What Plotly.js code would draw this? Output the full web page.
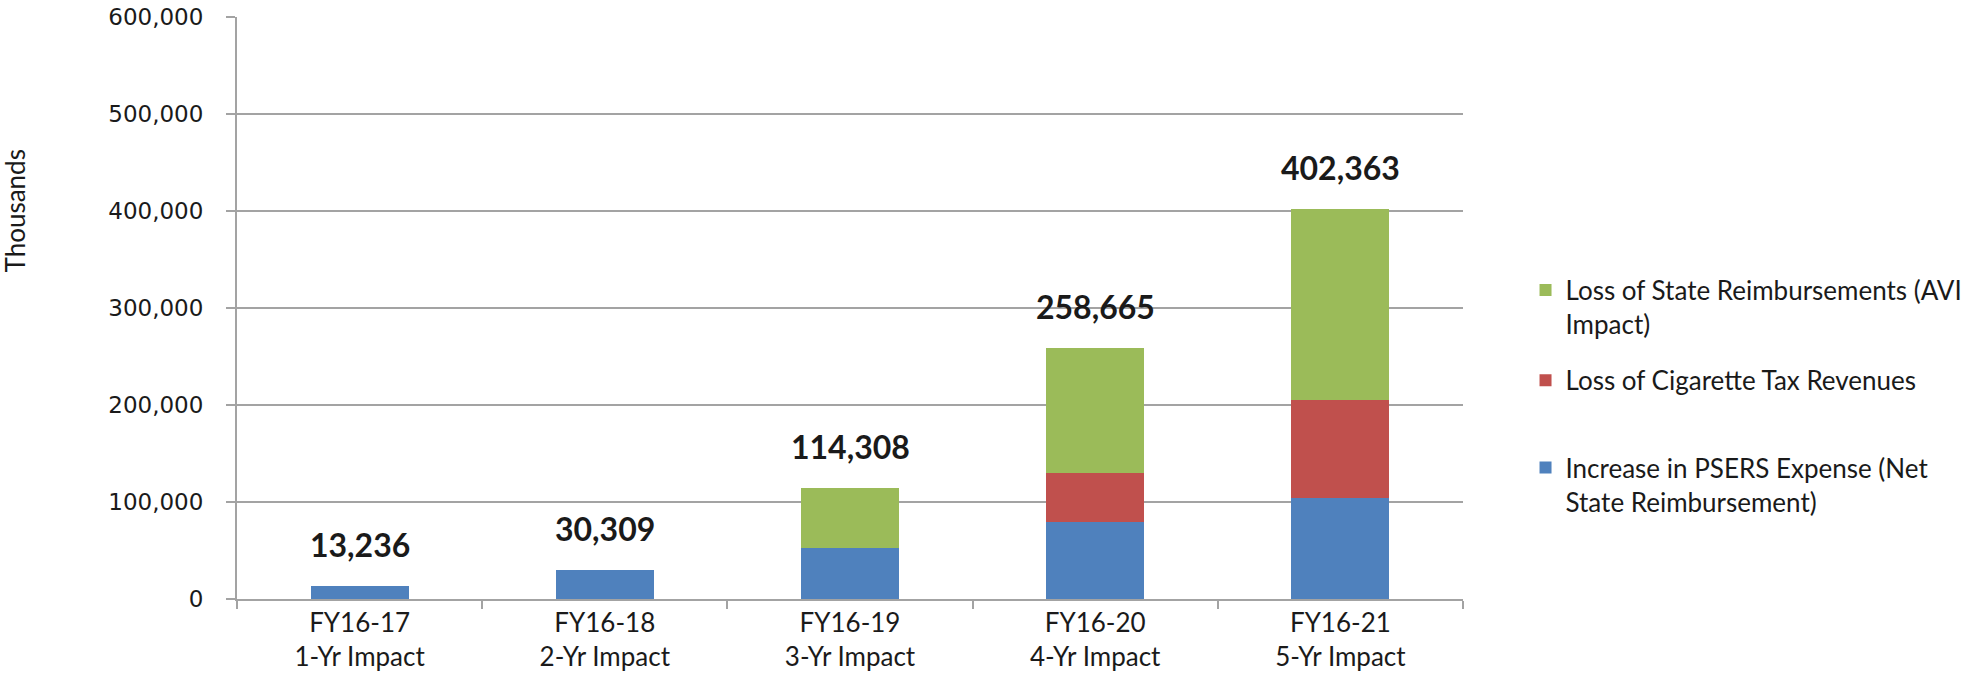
<!DOCTYPE html>
<html>
<head>
<meta charset="utf-8">
<script src="https://cdn.plot.ly/plotly-3.0.1.min.js"></script>
<style>
html,body{margin:0;padding:0;background:#fff;}
#chart{width:1982px;height:687px;}
</style>
</head>
<body>
<div id="chart"></div>
<script>
// ---- data ----
const categories = ["FY16-17<br>1-Yr Impact", "FY16-18<br>2-Yr Impact", "FY16-19<br>3-Yr Impact", "FY16-20<br>4-Yr Impact", "FY16-21<br>5-Yr Impact"];
const psersExpense = [13236, 30309, 53000, 79000, 104000];
const cigaretteTax = [null, null, null, 50800, 100900];
const stateReimb = [null, null, 61300, 128900, 197500];
const totals = [13236, 30309, 114308, 258665, 402363];
const seriesNames = [
  "Increase in PSERS Expense (Net<br>State Reimbursement)",
  "Loss of Cigarette Tax Revenues",
  "Loss of State Reimbursements (AVI<br>Impact)"
];
const yTicks = [0, 100000, 200000, 300000, 400000, 500000, 600000];

const colors = ["#4F81BD", "#C0504D", "#9BBB59"];
const textFont = "Lato, 'Open Sans', sans-serif";
const gridCol = "#A3A3A3";

const traces = [
  {type: "bar", x: categories, y: psersExpense, name: seriesNames[0], marker: {color: colors[0]}, legend: "legend3"},
  {type: "bar", x: categories, y: cigaretteTax, name: seriesNames[1], marker: {color: colors[1]}, legend: "legend2"},
  {type: "bar", x: categories, y: stateReimb, name: seriesNames[2], marker: {color: colors[2]}, legend: "legend"}
];

const annotations = categories.map((c, i) => ({
  x: c, y: totals[i], xref: "x", yref: "y",
  text: totals[i].toLocaleString("en-US"),
  showarrow: false, yanchor: "bottom", yshift: 20,
  font: {family: textFont, size: 32, color: "#1a1a1a", weight: "bold"}
}));
annotations.push({
  text: "Thousands", xref: "paper", yref: "paper", x: -0.181, y: 0.666,
  textangle: -90, showarrow: false, xanchor: "center", yanchor: "middle",
  font: {family: textFont, size: 26, color: "#1a1a1a"}
});

const legendBase = {
  x: 1.051, xanchor: "left", yanchor: "top", valign: "top",
  font: {family: textFont, size: 26, color: "#1a1a1a"},
  bgcolor: "rgba(0,0,0,0)", itemclick: false
};

const layout = {
  width: 1982, height: 687,
  margin: {l: 237, r: 519, t: 17, b: 88, pad: 0},
  paper_bgcolor: "#ffffff", plot_bgcolor: "#ffffff",
  barmode: "stack", bargap: 0.6,
  showlegend: true,
  legend: Object.assign({}, legendBase, {y: 0.571}),
  legend2: Object.assign({}, legendBase, {y: 0.416}),
  legend3: Object.assign({}, legendBase, {y: 0.266}),
  xaxis: {
    type: "category", showline: true, linecolor: gridCol, linewidth: 2,
    ticks: "outside", tickson: "boundaries", ticklen: 8, tickcolor: gridCol, tickwidth: 2,
    tickfont: {family: textFont, size: 26, color: "#1a1a1a"},
    showgrid: false, zeroline: false, fixedrange: true
  },
  yaxis: {
    range: [0, 600000], tickvals: yTicks, ticktext: yTicks.map(v => v.toLocaleString("en-US")),
    showline: true, linecolor: gridCol, linewidth: 2,
    ticks: "outside", ticklen: 9, tickcolor: gridCol, tickwidth: 2,
    ticklabelstandoff: 18,
    showgrid: true, gridcolor: gridCol, gridwidth: 1.5,
    zeroline: false,
    tickfont: {family: "'DejaVu Sans', Verdana, sans-serif", size: 23, color: "#1a1a1a"},
    fixedrange: true
  },
  annotations: annotations
};

Plotly.newPlot("chart", traces, layout, {staticPlot: true, displayModeBar: false});
</script>
</body>
</html>
